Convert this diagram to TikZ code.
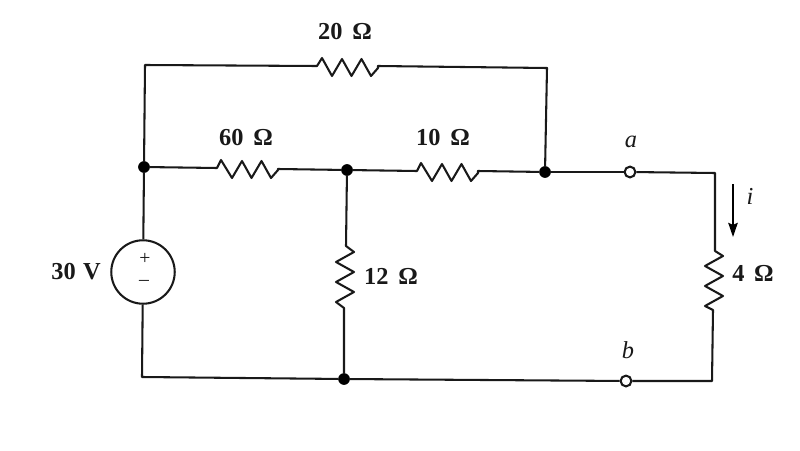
\documentclass[tikz,border=0pt]{standalone}
\usepackage{fontspec}
\setmainfont{Liberation Serif}
\usetikzlibrary{arrows.meta}
\newcommand{\om}{\hspace{0.4em}Ω}
\tikzset{x=0.0375cm,y=-0.0375cm,
wire/.style={line width=2.2pt,black!90,line join=round},
dot/.style={circle,fill=black,inner sep=0pt,minimum size=12.5pt},
term/.style={circle,draw=black!90,fill=white,line width=2.2pt,inner sep=0pt,minimum size=11.5pt},
lbl/.style={font=\bfseries\fontsize{26pt}{28pt}\selectfont,inner sep=0pt,black!90},
ital/.style={font=\itshape\fontsize{26pt}{28pt}\selectfont,inner sep=0pt,black!90},
sgn/.style={font=\fontsize{21pt}{22pt}\selectfont,inner sep=0pt,black!90},
src/.style={circle,draw=black!90,line width=2.2pt,fill=white,minimum size=2.38cm,inner sep=0pt}}
\begin{document}
\begin{tikzpicture}
\useasboundingbox (0,0) rectangle (800,451);
\fill[white] (0,0) rectangle (800,451);
\coordinate (tl) at (145,65); \coordinate (tr) at (547,68);
\coordinate (bl) at (142,377); \coordinate (br) at (712,381); \coordinate (tr2) at (715,173);
\node[src] (v) at (143,272) {};
\node[term] (a) at (630,172) {};
\node[term] (b) at (626,381) {};
\node[dot] (n1) at (144,167) {};
\node[dot] (n2) at (347,170) {};
\node[dot] (n3) at (545,172) {};
\node[dot] (n4) at (344,379) {};
\draw[wire] (v) -- (n1);
\draw[wire] (n1) -- (tl) -- (317,66) -- ++(5,-8) -- ++(10,18) -- ++(10,-17) -- ++(9.5,17) -- ++(10,-17) -- ++(9.5,17) -- ++(7,-8) -- (378,66) -- (tr) -- (n3);
\draw[wire] (n1) -- (217,168) -- ++(4,-8) -- ++(11,18) -- ++(10,-17) -- ++(9.5,17) -- ++(10,-17) -- ++(9.5,17) -- ++(7,-8) -- (278,169) -- (n2);
\draw[wire] (n2) -- (417,171) -- ++(4,-8) -- ++(11,18) -- ++(10,-17) -- ++(9.5,17) -- ++(10,-17) -- ++(9.5,17) -- ++(7,-8) -- (478,171) -- (n3);
\draw[wire] (n3) -- (a);
\draw[wire] (a) -- (tr2) -- (715,251) -- ++(8,5) -- ++(-18,10) -- ++(18,10) -- ++(-18,10) -- ++(18,10) -- ++(-18,10) -- (713,310) -- (br) -- (b);
\draw[wire] (b) -- (n4) -- (bl) -- (v);
\draw[wire] (n2) -- (346,246) -- ++(8,6) -- ++(-18,10) -- ++(18,10) -- ++(-18,10) -- ++(18,10) -- ++(-18,10) -- (344,308) -- (n4);
\node[lbl] (l20) at (345,32) {20\om};
\node[lbl] (l60) at (246,138) {60\om};
\node[lbl] (l10) at (443,138) {10\om};
\node[lbl] (l12) at (391,276) {12\om};
\node[lbl] (l4) at (753,273) {4\om};
\node[lbl] (l30) at (76,272) {30\hspace{0.3em}V};
\node[ital] (la) at (631,142) {a};
\node[ital] (lb) at (628,350) {b};
\node[ital] (li) at (750,196) {i};
\node[sgn] (pl) at (145,259) {+};
\node[sgn] (mi) at (144,283) {–};
\coordinate (i1) at (733,184); \coordinate (i2) at (733,237);
\draw[line width=2pt,-{Stealth[length=15pt,width=10pt,inset=2pt]}] (i1) -- (i2);
\end{tikzpicture}
\end{document}
